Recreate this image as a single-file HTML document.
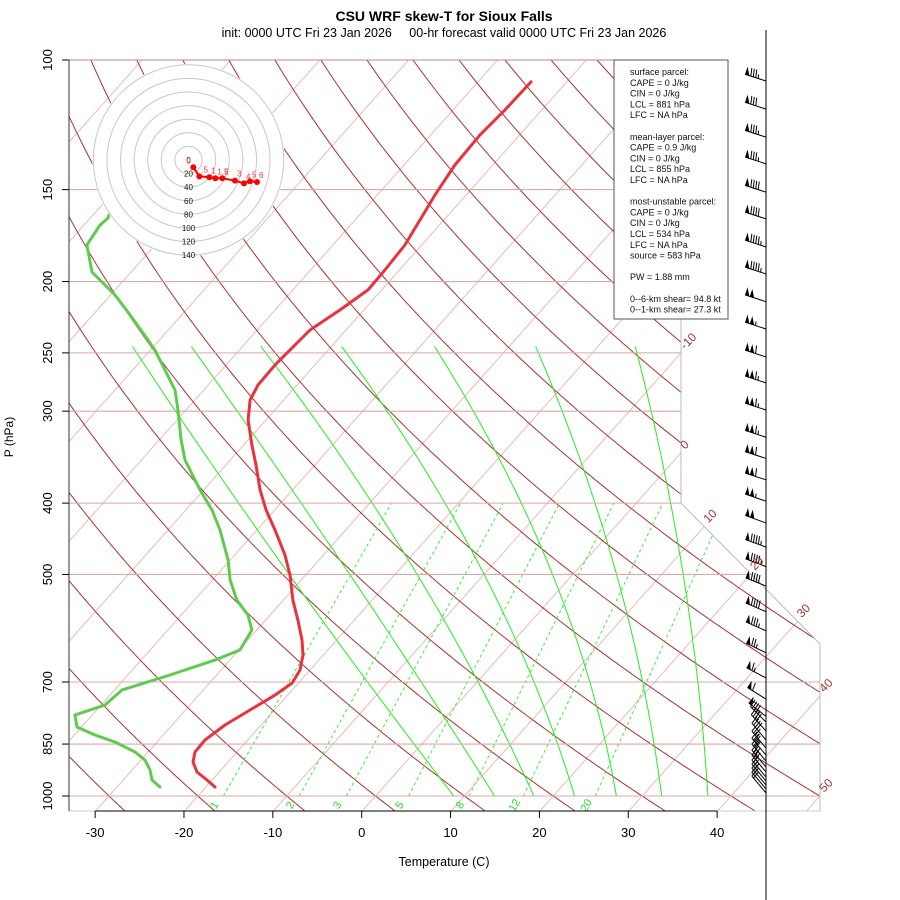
<!DOCTYPE html>
<html><head><meta charset="utf-8"><title>CSU WRF skew-T</title>
<style>
html,body{margin:0;padding:0;background:#fff;}
svg{display:block;font-family:"Liberation Sans",sans-serif;}
</style></head>
<body>
<svg id="chart" width="900" height="900" viewBox="0 0 900 900" xmlns="http://www.w3.org/2000/svg">
<defs><clipPath id="plotclip"><polygon points="69,60 681,60 681,503 820,644 820,811 69,811"/></clipPath></defs>
<rect width="900" height="900" fill="#fff"/>
<text x="444" y="21" text-anchor="middle" font-size="14" font-weight="bold">CSU WRF skew-T for Sioux Falls</text>
<text x="444" y="37" text-anchor="middle" font-size="12.5" xml:space="preserve">init: 0000 UTC Fri 23 Jan 2026     00-hr forecast valid 0000 UTC Fri 23 Jan 2026</text>
<g id="bg" clip-path="url(#plotclip)"></g>
<g id="frame"></g>
<g id="profiles"></g>
<g id="hodo"></g>
<g id="legend"></g>
<g id="winds"></g>
<g id="axes"></g>
<text x="444" y="866" text-anchor="middle" font-size="12.5">Temperature (C)</text>
<text transform="translate(13,437) rotate(-90)" text-anchor="middle" font-size="12">P (hPa)</text>
</svg>
<script>
// ---- data ----
const tempP = [972.2,951.2,927.7,899.2,871.5,839.4,800.9,764.2,729.2,702.4,674.4,643.5,613.9,576.8,541.9,500.9,470.6,435.1,408.7,383.9,355.0,333.5,308.4,289.7,276.4,259.7,247.8,232.7,218.6,205.3,192.9,178.4,165.0,152.6,138.9,126.4,116.9,107.1];
const tempT = [-18.97,-20.57,-22.5,-23.95,-24.72,-24.8,-24.05,-22.74,-21.43,-20.72,-21.12,-22.28,-23.9,-26.36,-28.92,-31.76,-34.32,-37.96,-40.97,-43.65,-46.61,-49.07,-52.01,-53.79,-54.4,-54.49,-54.31,-54.06,-52.69,-51.54,-51.63,-51.88,-52.7,-53.51,-54.27,-54.46,-54.15,-54.03];
const dewP = [972.2,951.2,921.9,893.6,871.5,844.6,826.3,805.9,776.3,752.3,717.8,684.9,653.6,633.4,595.0,567.6,541.9,508.8,477.9,435.1,408.7,383.9,349.5,328.3,299.0,280.8,263.8,247.8,240.1,222.0,208.6,194.1,178.4,167.6,164.0,155.1,145.0];
const dewT = [-25.16,-26.76,-27.99,-29.55,-31.48,-34.73,-37.69,-40.51,-41.94,-39.57,-39.15,-35.26,-31.7,-29.89,-30.54,-32.49,-35.22,-38.01,-40.23,-44.15,-47.05,-50.4,-55.1,-57.55,-60.89,-63.23,-66.36,-69.5,-71.29,-75.82,-79.5,-84.4,-87.67,-88.2,-88.0,-89.0,-89.5];
const pressLevels = [100,150,200,250,300,400,500,700,850,1000];
const tempTicks = [-30,-20,-10,0,10,20,30,40];
const isoTemps = [-110,-100,-90,-80,-70,-60,-50,-40,-30,-20,-10,0,10,20,30,40,50];
const isoLabels = [-10,0,10,20,30,40,50];
const thetas = [-30,-20,-10,0,10,20,30,40,50,60,70,80,90,100,110,120,130,140,150,160,170,180];
const moistP = [1000,536.9,241.5];
const moistT1000 = [8.8,13.4,17.8,22.4,27.1,32.2,37.4];
const moistTmid = [-27.8,-21.1,-13.7,-6.4,1.0,7.9,15.1];
const moistTtop = [-73.2,-66.6,-58.8,-49.7,-39.2,-27.7,-16.4];
const mixRatios = [1,2,3,5,8,12,20];
const windP = [106.8,116.6,127.3,138.4,151.2,164.4,179.5,195.3,213.0,232.0,253.2,274.6,298.9,325.5,347.8,371.9,397.6,425.6,459.0,487.9,518.5,561.7,596.5,638.9,691.3,738.5,779.5,793.5,816.1,839.4,860.8,879.9,896.4,913.4,927.7,942.4,954.2,966.3,978.4,990.6];
const windSpd = [85,80,85,85,90,90,95,95,100,105,110,115,115,115,110,110,105,100,95,95,90,90,85,75,65,60,50,45,40,40,35,35,30,30,30,25,25,25,20,20];
const windDir = [288,288,288,288,288,288,288,288,288,288,288,288,288,288,288,288,289,290,290,291,292,293,294,296,298,302,308,315,318,320,320,320,320,320,320,320,320,320,320,320];
const hodoU = [7.1,16.0,30.7,39.5,49.8,68.4,81.6,90.4,100.7];
const hodoV = [-10.7,-24.0,-25.4,-26.9,-26.9,-30.4,-34.3,-31.3,-32.4];
const hodoLabels = ["0",".5","1","1.5","2","3","4","5","6"];
const hodoRings = [20,40,60,80,100,120,140];
const legendLines = ["surface parcel:","CAPE = 0 J/kg","CIN = 0 J/kg","LCL = 881 hPa","LFC = NA hPa","","mean-layer parcel:","CAPE = 0.9 J/kg","CIN = 0 J/kg","LCL = 855 hPa","LFC = NA hPa","","most-unstable parcel:","CAPE = 0 J/kg","CIN = 0 J/kg","LCL = 534 hPa","LFC = NA hPa","source = 583 hPa","","PW =  1.88 mm","","0--6-km shear= 94.8 kt","0--1-km shear= 27.3 kt"];

// ---- axis functions ----
const NS = "http://www.w3.org/2000/svg";
function Y(p){ return 60 + 736*Math.log10(p/100); }
function X(T,p){ return 361.7 + 8.886*T + 0.89*(811.6 - Y(p)); }
function el(tag, attrs, parent){
  const e = document.createElementNS(NS, tag);
  for (const k in attrs) e.setAttribute(k, attrs[k]);
  parent.appendChild(e);
  return e;
}
function pathFrom(pts){ return pts.map((q,i)=>(i?"L":"M")+q[0].toFixed(1)+","+q[1].toFixed(1)).join(""); }
function boundaryX(y){ if (y <= 503) return 681; if (y >= 644) return 820; return 681 + (y-503)*139/141; }

const bg = document.getElementById("bg");
const frame = document.getElementById("frame");
const prof = document.getElementById("profiles");
const hodo = document.getElementById("hodo");
const legend = document.getElementById("legend");
const winds = document.getElementById("winds");
const axes = document.getElementById("axes");

// isotherms
isoTemps.forEach(t=>{
  const l = el("line",{x1:X(t,1050),y1:Y(1050),x2:X(t,100),y2:Y(100),stroke:"#e6b4b4","stroke-width":0.9},bg);
  
  
});
// pressure lines
pressLevels.forEach(p=>{
  if (p===100) return;
  const y = Y(p);
  const l = el("line",{x1:69,y1:y,x2:boundaryX(y),y2:y,stroke:"#dca8a8","stroke-width":1.1},frame);
  
  
});
// dry adiabats
thetas.forEach(th=>{
  const pts=[];
  for(let p=1050;p>=100;p-=5){ const T=(th+273.15)*Math.pow(p/1000,0.2857)-273.15; pts.push([X(T,p),Y(p)]); }
  const d = el("path",{d:pathFrom(pts),fill:"none",stroke:"#a83232","stroke-width":1},bg);
  
  
});
// moist adiabats: quadratic in ln p through three read points
moistT1000.forEach((t0,i)=>{
  const xs = moistP.map(p=>Math.log(p));
  const ys = [t0, moistTmid[i], moistTtop[i]];
  const pts=[];
  for(let p=1000;p>=moistP[2]-0.01;p-=5){
    const x=Math.log(Math.max(p,moistP[2]));
    let T=0;
    for(let a=0;a<3;a++){ let L=1; for(let b=0;b<3;b++){ if(a!==b) L*=(x-xs[b])/(xs[a]-xs[b]); } T+=ys[a]*L; }
    pts.push([X(T,Math.max(p,moistP[2])),Y(Math.max(p,moistP[2]))]);
  }
  const d = el("path",{d:pathFrom(pts),fill:"none",stroke:"#22ee22","stroke-width":1},bg);
  
  
});
// mixing ratio lines
function tdFromW(w,p){ const e=w*p/(622+w); const a=Math.log(e/6.112); return 243.5*a/(17.67-a); }
mixRatios.forEach(w=>{
  const d = el("line",{x1:X(tdFromW(w,1000),1000),y1:Y(1000),x2:X(tdFromW(w,400),400),y2:Y(400),stroke:"#33ee33","stroke-width":1,"stroke-dasharray":"3,3"},bg);
  
  
  const lx = X(tdFromW(w,1000),1000)-6;
  const t = el("text",{x:lx,y:807,"font-size":11,fill:"#22dd22",transform:`rotate(-60 ${lx} 807)`,"text-anchor":"middle"},axes);
  t.textContent = String(w);
  
  
});
// isotherm labels
isoLabels.forEach(t=>{
  const c = 361.7+8.886*t;
  let x,y;
  y = 811.6-(681-c)/0.89;
  if (y<=503){ x=681; }
  else { x=(c+889.2)/1.9025; y=503+1.014*(x-681); if (x>820){ x=820; y=811.6-(820-c)/0.89; } }
  const lx=x+4, ly=y-3;
  const tx = el("text",{x:lx,y:ly,"font-size":12,fill:"#a83232",transform:`rotate(-45 ${lx} ${ly})`},axes);
  tx.textContent = String(t);
  
  
});

// frame lines
[["line",{x1:69,y1:60,x2:614,y2:60,stroke:"#b88a8a","stroke-width":1},"top-border"],
 ["polyline",{points:"681,60 681,503 820,644 820,811",fill:"none",stroke:"#bbbbbb","stroke-width":1},"chart-outline"],
 ["line",{x1:69,y1:811,x2:820,y2:811,stroke:"#cccccc","stroke-width":1},"bottom-border"],
 ["line",{x1:69,y1:60,x2:69,y2:811,stroke:"#333","stroke-width":1},"y-axis-line"],
 ["line",{x1:766,y1:30,x2:766,y2:900,stroke:"#000","stroke-width":1},"wind-staff-axis"]
].forEach(a=>{ const e=el(a[0],a[1],frame);   });

// profiles
const tPath = el("path",{d:pathFrom(tempP.map((p,i)=>[X(tempT[i],p),Y(p)])),fill:"none",stroke:"#e8333f","stroke-width":3,"stroke-linejoin":"round","stroke-linecap":"round"},prof);


const dPath = el("path",{d:pathFrom(dewP.map((p,i)=>[X(dewT[i],p),Y(p)])),fill:"none",stroke:"#5fcb4c","stroke-width":3,"stroke-linejoin":"round","stroke-linecap":"round"},prof);



// hodograph
const hcx=188.5, hcy=160, hs=0.68;
const hbg = el("circle",{cx:hcx,cy:hcy,r:hs*140+1,fill:"#fff",stroke:"none"},hodo);


hodoRings.forEach(r=>{
  const c = el("circle",{cx:hcx,cy:hcy,r:hs*r,fill:"none",stroke:"#c8c8c8","stroke-width":1},hodo);
  
  
});
[0].concat(hodoRings).forEach(r=>{
  const t = el("text",{x:hcx,y:hcy+hs*r+3,"font-size":8,"text-anchor":"middle",fill:"#111"},hodo);
  t.textContent=String(r);
  
  
});
const hpts = hodoU.map((u,i)=>[hcx+hs*u, hcy-hs*hodoV[i]]);
const hl = el("path",{d:pathFrom(hpts),fill:"none",stroke:"#ff0000","stroke-width":2},hodo);


hpts.forEach((q,i)=>{
  const c = el("circle",{cx:q[0],cy:q[1],r:3,fill:"#ff0000"},hodo);
  
  
  const t = el("text",{x:q[0]+(i===0?-7:2),y:q[1]-4,"font-size":8,fill:"#ff3333"},hodo);
  t.textContent=hodoLabels[i];
  
  
});

// legend
const lb = el("rect",{x:614,y:60,width:114,height:259,fill:"#fff",stroke:"#555","stroke-width":1},legend);


legendLines.forEach((s,i)=>{
  if(!s) return;
  const t = el("text",{x:630,y:75+i*10.8,"font-size":9,fill:"#111"},legend);
  t.setAttribute("xml:space","preserve");
  t.textContent=s;
  
  
});

// wind barbs
windP.forEach((p,i)=>{
  const by=Y(p), bx=766, L=22;
  const d=windDir[i]*Math.PI/180;
  const ux=Math.sin(d), uy=-Math.cos(d);
  const nx=-uy, ny=ux;
  const px = (ny<0)?nx:-nx, py=(ny<0)?ny:-ny;
  const tx=bx+L*ux, ty=by+L*uy;
  const g = el("g",{},winds);
  
  
  el("line",{x1:bx,y1:by,x2:tx,y2:ty,stroke:"#000","stroke-width":1},g);
  let s=Math.round(windSpd[i]/5)*5, pos=0;
  while(s>=50){
    const ax=tx-ux*pos, ay=ty-uy*pos, bx2=tx-ux*(pos+4.5), by2=ty-uy*(pos+4.5);
    el("polygon",{points:`${ax},${ay} ${bx2},${by2} ${ax+px*8},${ay+py*8}`,fill:"#000"},g);
    pos+=5; s-=50;
  }
  if(pos>0) pos+=1;
  while(s>=10){
    const ax=tx-ux*pos, ay=ty-uy*pos;
    el("line",{x1:ax,y1:ay,x2:ax+px*8+ux*1.5,y2:ay+py*8+uy*1.5,stroke:"#000","stroke-width":1},g);
    pos+=2.6; s-=10;
  }
  if(s>=5){
    const ax=tx-ux*pos, ay=ty-uy*pos;
    el("line",{x1:ax,y1:ay,x2:ax+px*4+ux*0.8,y2:ay+py*4+uy*0.8,stroke:"#000","stroke-width":1},g);
  }
});

// axes ticks & labels
pressLevels.forEach(p=>{
  const y=Y(p);
  const tk = el("line",{x1:62,y1:y,x2:69,y2:y,stroke:"#000","stroke-width":1},axes);
  
  
  const t = el("text",{x:0,y:0,"font-size":13,"text-anchor":"middle",transform:`translate(52,${y}) rotate(-90)`},axes);
  t.textContent=String(p);
  
  
});
const xl = el("line",{x1:361.7+8.886*tempTicks[0],y1:811,x2:361.7+8.886*tempTicks[tempTicks.length-1],y2:811,stroke:"#000","stroke-width":1},axes);


tempTicks.forEach(t=>{
  const x=361.7+8.886*t;
  const tk = el("line",{x1:x,y1:811,x2:x,y2:818,stroke:"#000","stroke-width":1},axes);
  
  
  const tx = el("text",{x:x,y:837,"font-size":13,"text-anchor":"middle"},axes);
  tx.textContent=String(t);
  
  
});
</script>
</body></html>
